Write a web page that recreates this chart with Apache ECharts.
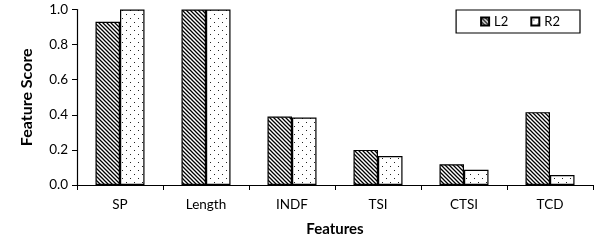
<!DOCTYPE html>
<html><head><meta charset="utf-8">
<script src="https://cdn.jsdelivr.net/npm/echarts@6/dist/echarts.min.js"></script>
<style>html,body{margin:0;padding:0;background:#fff}#c{width:607px;height:240px}</style>
</head><body><div id="c"></div>
<script>
const categories = ['SP', 'Length', 'INDF', 'TSI', 'CTSI', 'TCD'];
const l2Values = [0.93, 1.0, 0.39, 0.20, 0.118, 0.415];
const r2Values = [1.0, 1.0, 0.385, 0.165, 0.087, 0.057];
const yTicks = [0, 0.2, 0.4, 0.6, 0.8, 1.0];

function hatch() {
  const c = document.createElement('canvas');
  c.width = 4; c.height = 4;
  const g = c.getContext('2d');
  g.fillStyle = '#fff'; g.fillRect(0, 0, 4, 4);
  g.strokeStyle = '#000'; g.lineWidth = 1.3;
  g.beginPath();
  g.moveTo(-1, -1); g.lineTo(5, 5);
  g.moveTo(-1, 3); g.lineTo(1, 5);
  g.moveTo(3, -1); g.lineTo(5, 1);
  g.stroke();
  return c;
}
function dots() {
  const c = document.createElement('canvas');
  c.width = 8; c.height = 8;
  const g = c.getContext('2d');
  g.fillStyle = '#fff'; g.fillRect(0, 0, 8, 8);
  g.fillStyle = '#222';
  g.fillRect(2, 2, 1, 1);
  g.fillRect(6, 6, 1, 1);
  return c;
}
const font = 'Lato';
const chart = echarts.init(document.getElementById('c'));
chart.setOption({
  animation: false,
  textStyle: { fontFamily: font },
  grid: { left: 77, right: 14, top: 9.5, bottom: 55, containLabel: false, outerBoundsMode: 'none' },
  legend: {
    right: 27, top: 10,
    orient: 'horizontal',
    borderColor: '#000', borderWidth: 1.2,
    padding: [5, 20, 5, 24],
    itemWidth: 8, itemHeight: 8, itemGap: 22,
    icon: 'rect',
    textStyle: { fontFamily: font, fontSize: 13, color: '#000' },
    data: ['L2', 'R2']
  },
  xAxis: {
    type: 'category', data: categories,
    name: 'Features', nameLocation: 'middle', nameGap: 37,
    nameTextStyle: { fontFamily: font, fontWeight: 'bold', fontSize: 15, color: '#000' },
    axisLine: { lineStyle: { color: '#000', width: 1.2 } },
    axisTick: { show: true, length: 5, lineStyle: { color: '#000' } },
    axisLabel: { color: '#000', fontSize: 13.5, margin: 13, fontFamily: font }
  },
  yAxis: {
    type: 'value', min: 0, max: 1, interval: 0.2,
    name: 'Feature Score', nameLocation: 'middle', nameGap: 42,
    nameTextStyle: { fontFamily: font, fontWeight: 'bold', fontSize: 16, color: '#000' },
    axisLine: { show: true, lineStyle: { color: '#000', width: 1.2 } },
    axisTick: { show: true, length: 5, inside: false, lineStyle: { color: '#000' } },
    axisLabel: { color: '#000', fontSize: 13.5, margin: 9, fontFamily: font,
      formatter: v => yTicks.includes(+v.toFixed(1)) ? v.toFixed(1) : '' },
    splitLine: { show: false }
  },
  series: [
    { name: 'L2', type: 'bar', data: l2Values, barWidth: '28.5%', barGap: '0%',
      itemStyle: { color: { image: hatch(), repeat: 'repeat' }, borderColor: '#000', borderWidth: 1.2 } },
    { name: 'R2', type: 'bar', data: r2Values, barWidth: '28.5%', barGap: '0%',
      itemStyle: { color: { image: dots(), repeat: 'repeat' }, borderColor: '#000', borderWidth: 1.2 } }
  ]
});
</script></body></html>
